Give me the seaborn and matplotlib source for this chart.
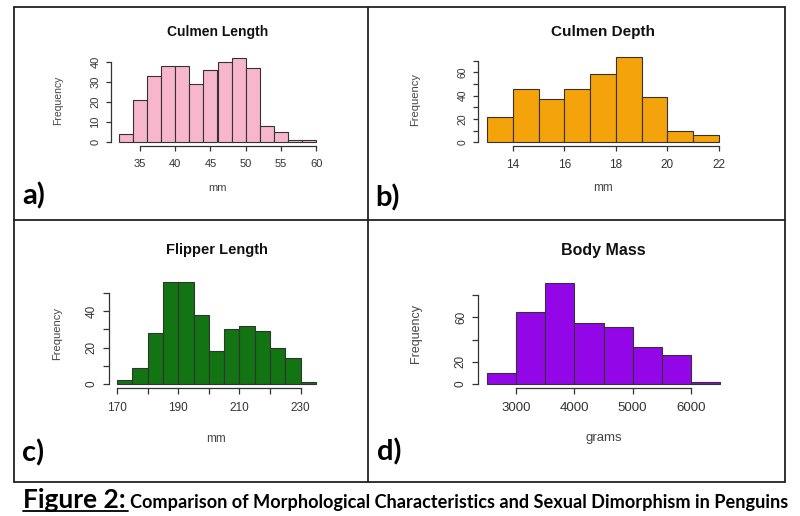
import numpy as np
import pandas as pd
import matplotlib
matplotlib.use("Agg")
import matplotlib.pyplot as plt
from matplotlib.lines import Line2D
import seaborn as sns

# histogram bins and counts
culmen_length_edges = [32, 34, 36, 38, 40, 42, 44, 46, 48, 50, 52, 54, 56, 58, 60]
culmen_length_counts = [4, 21, 33, 38, 38, 29, 36, 40, 42, 37, 8, 5, 1, 1]

culmen_depth_edges = [13, 14, 15, 16, 17, 18, 19, 20, 21, 22]
culmen_depth_counts = [22, 46, 37, 46, 59, 73, 39, 10, 6]

flipper_edges = [170, 175, 180, 185, 190, 195, 200, 205, 210, 215, 220, 225, 230, 235]
flipper_counts = [2, 9, 28, 56, 56, 38, 18, 30, 32, 29, 20, 14, 1]

body_mass_edges = [2500, 3000, 3500, 4000, 4500, 5000, 5500, 6000, 6500]
body_mass_counts = [10, 65, 91, 55, 51, 33, 26, 2]

# axis ticks (R drops labels that would overlap, so some are blank)
a_xticks = [35, 40, 45, 50, 55, 60]
a_xlabels = ["35", "40", "45", "50", "55", "60"]
a_yticks = [0, 10, 20, 30, 40]
a_ylabels = ["0", "10", "20", "30", "40"]

b_xticks = [14, 16, 18, 20, 22]
b_xlabels = ["14", "16", "18", "20", "22"]
b_yticks = [0, 10, 20, 30, 40, 50, 60, 70]
b_ylabels = ["0", "", "20", "", "40", "", "60", ""]

c_xticks = [170, 180, 190, 200, 210, 220, 230]
c_xlabels = ["170", "", "190", "", "210", "", "230"]
c_yticks = [0, 10, 20, 30, 40, 50]
c_ylabels = ["0", "", "20", "", "40", ""]

d_xticks = [3000, 4000, 5000, 6000]
d_xlabels = ["3000", "4000", "5000", "6000"]
d_yticks = [0, 20, 40, 60, 80]
d_ylabels = ["0", "20", "", "60", ""]

titles = ["Culmen Length", "Culmen Depth", "Flipper Length", "Body Mass"]
xlabels = ["mm", "mm", "mm", "grams"]
letters = ["a)", "b)", "c)", "d)"]
colors = ["#f8b6cd", "#f5a30b", "#127412", "#9306e7"]

caption_head = "Figure 2:"
caption_body = "Comparison of Morphological Characteristics and Sexual Dimorphism in Penguins"

sns.set_style("ticks")
plt.rcParams["font.family"] = ["Liberation Sans", "DejaVu Sans"]

W, H = 800, 516
fig = plt.figure(figsize=(W / 100, H / 100), dpi=100)
fig.patch.set_facecolor("white")


def fx(px):
    return px / W


def fy(py):
    return 1 - py / H


# pixel boxes of the plot regions: x0, top, x1, bottom
boxes = [(111, 55, 324, 145.5), (478, 54, 728, 145.5),
         (109, 278, 324, 388), (478, 279, 729, 388)]
# text placement per panel (pixels) and sizes
title_y = [32, 32, 250, 250]
xlab_y = [188, 188, 439, 438]
ylab_x = [58, 415, 57, 416]
letter_xy = [(22, 196), (375, 198), (22, 453), (377, 452)]
title_size = [10, 11, 10.5, 11.5]
tick_size = [8, 8.5, 8.5, 9.5]
ytick_size = [8, 7.5, 8.5, 8.5]
lab_size = [8, 8.5, 8.5, 9.5]
tick_len = [3.5, 3.5, 4, 4]

panels = [
    (culmen_length_edges, culmen_length_counts, a_xticks, a_xlabels, a_yticks, a_ylabels),
    (culmen_depth_edges, culmen_depth_counts, b_xticks, b_xlabels, b_yticks, b_ylabels),
    (flipper_edges, flipper_counts, c_xticks, c_xlabels, c_yticks, c_ylabels),
    (body_mass_edges, body_mass_counts, d_xticks, d_xlabels, d_yticks, d_ylabels),
]

for i, (edges, counts, xt, xtl, yt, ytl) in enumerate(panels):
    x0, top, x1, bot = boxes[i]
    ax = fig.add_axes([fx(x0), fy(bot), fx(x1) - fx(x0), fy(top) - fy(bot)])
    df = pd.DataFrame({"mid": [(a + b) / 2 for a, b in zip(edges[:-1], edges[1:])],
                       "count": counts})
    sns.histplot(data=df, x="mid", weights="count", bins=list(edges), ax=ax,
                 color=colors[i], alpha=1, edgecolor="#333333", linewidth=0.8)
    # R style: 4% padding around the data range
    xr = edges[-1] - edges[0]
    ymax = max(counts)
    ax.set_xlim(edges[0] - 0.04 * xr, edges[-1] + 0.04 * xr)
    ax.set_ylim(-0.04 * ymax, 1.04 * ymax)
    ax.set_facecolor("white")
    for s in ["top", "right"]:
        ax.spines[s].set_visible(False)
    ax.spines["left"].set_bounds(yt[0], yt[-1])
    ax.spines["bottom"].set_bounds(xt[0], xt[-1])
    for s in ["left", "bottom"]:
        ax.spines[s].set_color("#333333")
        ax.spines[s].set_linewidth(0.9)
    ax.set_xticks(xt)
    ax.set_xticklabels(xtl)
    ax.set_yticks(yt)
    ax.set_yticklabels(ytl, rotation=90, va="center")
    ax.tick_params(axis="x", length=tick_len[i], width=0.9, color="#333333",
                   labelsize=tick_size[i], labelcolor="#333333", pad=6)
    ax.tick_params(axis="y", length=tick_len[i], width=0.9, color="#333333",
                   labelsize=ytick_size[i], labelcolor="#333333", pad=4)
    ax.set_xlabel("")
    ax.set_ylabel("")
    cx = (x0 + x1) / 2
    fig.text(fx(cx), fy(title_y[i]), titles[i], ha="center", va="center",
             fontsize=title_size[i], fontweight="bold", color="#111111")
    fig.text(fx(cx), fy(xlab_y[i]), xlabels[i], ha="center", va="center",
             fontsize=lab_size[i], color="#444444")
    fig.text(fx(ylab_x[i]), fy((top + bot) / 2), "Frequency", ha="center", va="center",
             rotation=90, fontsize=lab_size[i] - 0.5, color="#444444")
    lx, ly = letter_xy[i]
    fig.text(fx(lx), fy(ly), letters[i], ha="left", va="center", fontsize=21,
             fontweight="bold", family="Lato", color="black")

# panel frame
frame = dict(color="#222222", linewidth=1.3)
for xs, ys in [((14, 785), (7, 7)), ((14, 785), (482, 482)), ((14, 14), (7, 482)),
               ((785, 785), (7, 482)), ((368, 368), (7, 482)), ((14, 785), (220, 220))]:
    fig.add_artist(Line2D([fx(xs[0]), fx(xs[1])], [fy(ys[0]), fy(ys[1])], **frame))

# caption
base_y = 508
head = fig.text(fx(23), fy(base_y), caption_head, ha="left", va="baseline",
                fontsize=19, fontweight="bold", family="Lato", color="black")
body = fig.text(fx(130), fy(base_y), caption_body, ha="left", va="baseline",
                fontsize=12, fontweight="bold", family="Lato", color="black")
r = fig.canvas.get_renderer()
bb = body.get_window_extent(r)
body.set_fontsize(12 * 655 / bb.width)
fig.add_artist(Line2D([fx(23), fx(128)], [fy(base_y + 3), fy(base_y + 3)],
                      color="black", linewidth=1.3))

fig.savefig("out.png", dpi=100, facecolor="white")
